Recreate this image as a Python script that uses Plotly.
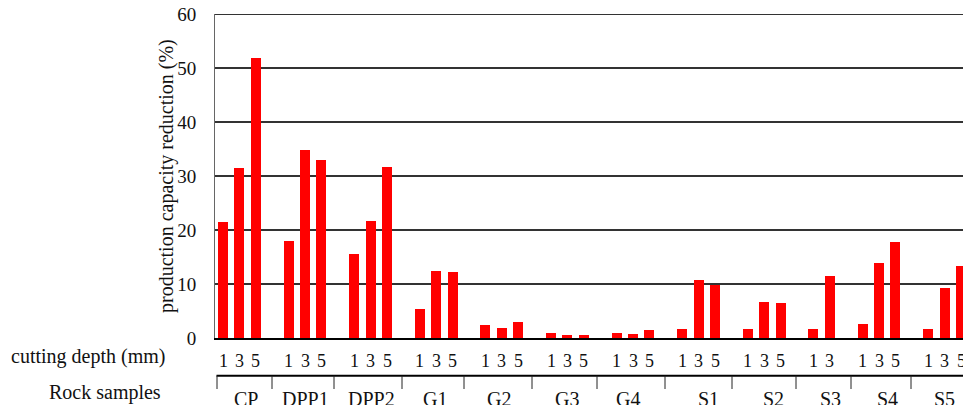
import plotly.graph_objects as go

# ---------------- data ----------------
samples = ["CP", "DPP1", "DPP2", "G1", "G2", "G3", "G4", "S1", "S2", "S3", "S4", "S5"]
depths = [
    [1, 3, 5], [1, 3, 5], [1, 3, 5], [1, 3, 5], [1, 3, 5], [1, 3, 5],
    [1, 3, 5], [1, 3, 5], [1, 3, 5], [1, 3], [1, 3, 5], [1, 3, 5],
]
reduction = [
    [21.5, 31.5, 51.9],   # CP
    [18.0, 34.8, 33.0],   # DPP1
    [15.6, 21.7, 31.7],   # DPP2
    [5.4, 12.4, 12.2],    # G1
    [2.4, 1.85, 3.0],     # G2
    [0.93, 0.56, 0.5],    # G3
    [0.9, 0.74, 1.5],     # G4
    [1.67, 10.7, 9.8],    # S1
    [1.67, 6.67, 6.5],    # S2
    [1.67, 11.5],         # S3
    [2.6, 13.9, 17.8],    # S4
    [1.67, 9.3, 13.3],    # S5
]
y_ticks = [0, 10, 20, 30, 40, 50, 60]

# ---------------- layout constants ----------------
W, H = 963, 405
ML, MR, MT, MB = 215, 0, 14, 67
PW, PH = W - ML - MR, H - MT - MB
FONT = "Liberation Serif, Times New Roman, serif"
XR = [-0.488, 45.12]

def px_to_px(px):
    return (px - ML) / PW

def py_to_py(py):
    return (MT + PH - py) / PH

# slot positions: each group has its bars plus one empty gap slot
xs, ys, dlabels = [], [], []
slot = 0
for d, v in zip(depths, reduction):
    for dd, vv in zip(d, v):
        xs.append(slot)
        ys.append(vv)
        dlabels.append(str(dd))
        slot += 1
    slot += 1

fig = go.Figure()
fig.add_trace(go.Bar(
    x=xs, y=ys, width=0.61,
    marker=dict(color="#FF0000", line=dict(width=0)),
    showlegend=False, hoverinfo="skip",
))

annotations = []
# depth labels under each bar
for x, t in zip(xs, dlabels):
    annotations.append(dict(
        x=x, xref="x", y=py_to_py(360.5), yref="paper",
        text=t, showarrow=False, xanchor="center", yanchor="middle",
        font=dict(family=FONT, size=18, color="#111"),
    ))

# row titles
annotations.append(dict(
    x=px_to_px(88), xref="paper", y=py_to_py(356), yref="paper",
    text="cutting depth (mm)", showarrow=False, xanchor="center", yanchor="middle",
    font=dict(family=FONT, size=20, color="#111"),
))
annotations.append(dict(
    x=px_to_px(105), xref="paper", y=py_to_py(392), yref="paper",
    text="Rock samples", showarrow=False, xanchor="center", yanchor="middle",
    font=dict(family=FONT, size=20, color="#111"),
))
# y title
annotations.append(dict(
    x=px_to_px(166), xref="paper", y=0.5, yref="paper",
    text="production capacity reduction (%)", showarrow=False, textangle=-90,
    xanchor="center", yanchor="middle",
    font=dict(family=FONT, size=20, color="#111"),
))

# sample group labels and separators (drawn table below the axis)
label_px = [246, 305, 371, 435, 499, 567, 628, 708, 773, 830, 887, 944]
sep_px = [217, 272, 334, 402, 464, 532, 597, 665, 732, 796, 851, 911]
for name, lp in zip(samples, label_px):
    annotations.append(dict(
        x=px_to_px(lp), xref="paper", y=py_to_py(399), yref="paper",
        text=name, showarrow=False, xanchor="center", yanchor="middle",
        font=dict(family=FONT, size=20, color="#111"),
    ))

shapes = []
shapes.append(dict(type="line", xref="paper", yref="paper",
                   x0=px_to_px(216.5), x1=1.0, y0=py_to_py(375.7), y1=py_to_py(375.7),
                   line=dict(color="#000", width=2)))
for sp in sep_px:
    shapes.append(dict(type="line", xref="paper", yref="paper",
                       x0=px_to_px(sp), x1=px_to_px(sp),
                       y0=py_to_py(375.7), y1=py_to_py(389),
                       line=dict(color="#222", width=1)))
# top gridline at 60
shapes.append(dict(type="line", xref="paper", yref="y", x0=0, x1=1, y0=60, y1=60,
                   line=dict(color="#333", width=2)))

fig.update_layout(
    width=W, height=H,
    margin=dict(l=ML, r=MR, t=MT, b=MB, pad=0),
    paper_bgcolor="white", plot_bgcolor="white",
    bargap=0,
    xaxis=dict(range=XR, showgrid=False, zeroline=False, showticklabels=False,
               showline=True, linecolor="#000", linewidth=2, ticks=""),
    yaxis=dict(range=[0, 60], tickvals=y_ticks, showgrid=True, gridcolor="#333",
               gridwidth=2, zeroline=False, showline=True, linecolor="#666",
               linewidth=1, ticks="", ticklabelstandoff=14,
               tickfont=dict(family=FONT, size=19, color="#111")),
    annotations=annotations,
    shapes=shapes,
)

fig.write_html("out.html")
